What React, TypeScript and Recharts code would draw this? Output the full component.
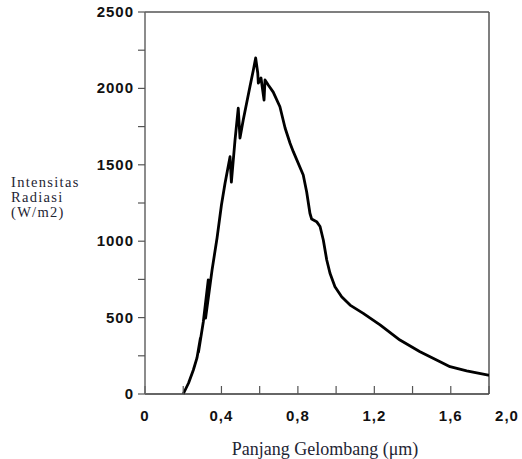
import React from 'react';
import { LineChart, Line, XAxis, YAxis, ReferenceLine } from 'recharts';

// wavelength (µm) and radiation intensity (W/m2) in order
const wavelength = [
  0.2, 0.228, 0.253, 0.272, 0.29, 0.28, 0.305, 0.331, 0.317, 0.351,
  0.377, 0.4, 0.419, 0.445, 0.452, 0.471, 0.488, 0.497, 0.514, 0.549,
  0.567, 0.579, 0.59, 0.593, 0.607, 0.623, 0.628, 0.645, 0.671, 0.706,
  0.733, 0.759, 0.776, 0.828, 0.846, 0.863, 0.872, 0.898, 0.916, 0.933,
  0.951, 0.968, 0.994, 1.029, 1.073, 1.142, 1.23, 1.334, 1.439, 1.544,
  1.596, 1.683, 1.796, 1.8,
];
const intensity = [
  0, 72, 157, 236, 366, 275, 471, 746, 497, 812,
  1021, 1237, 1381, 1553, 1387, 1662, 1870, 1675, 1793, 2011,
  2120, 2199, 2101, 2035, 2068, 1924, 2055, 2022, 1976, 1880,
  1741, 1641, 1586, 1433, 1322, 1183, 1145, 1128, 1096, 1008,
  877, 790, 702, 637, 582, 528, 452, 353, 277, 211,
  179, 152, 124, 124,
];

const xTicks = [0, 0.2, 0.4, 0.6, 0.8, 1.0, 1.2, 1.4, 1.6, 1.8];
const xTickLabels = ['0', '', '0,4', '', '0,8', '', '1,2', '', '1,6', '2,0'];
const yTicks = [0, 250, 500, 750, 1000, 1250, 1500, 1750, 2000, 2250, 2500];
const yTickLabels = ['0', '', '500', '', '1000', '', '1500', '', '2000', '', '2500'];

const data = wavelength.map((x, i) => ({ x, v: intensity[i] }));

const tickFont = {
  fontFamily: '"Liberation Sans", Arial, sans-serif',
  fontWeight: 700,
  fontSize: 15,
  letterSpacing: 1,
  fill: '#111',
};

const titleFont = {
  fontFamily: '"Liberation Serif", "Times New Roman", serif',
  fill: '#1e2533',
};

const XTick = (props: any) => {
  const { x, y, payload } = props;
  const label = xTickLabels[xTicks.indexOf(payload.value)];
  if (!label) return null;
  // the last label sits a little right of the frame in the original
  const dx = label === '2,0' ? 18 : 0;
  return (
    <text x={x + dx} y={y + 15} textAnchor="middle" {...tickFont}>
      {label}
    </text>
  );
};

const YTick = (props: any) => {
  const { x, y, payload } = props;
  const label = yTickLabels[yTicks.indexOf(payload.value)];
  if (!label) return null;
  return (
    <text x={x + 1} y={y + 5} textAnchor="end" {...tickFont}>
      {label}
    </text>
  );
};

const App = () => {
  return (
    <div style={{ position: 'absolute', left: 0, top: 0 }}>
      <LineChart
        width={522}
        height={459}
        data={data}
        margin={{ top: 12, right: 33, bottom: 0, left: 0 }}
      >
        <XAxis
          dataKey="x"
          type="number"
          domain={[0, 1.8]}
          ticks={xTicks}
          interval={0}
          height={65}
          tickSize={-8}
          tickMargin={20}
          tick={<XTick />}
          axisLine={{ stroke: '#333', strokeWidth: 1.5 }}
          tickLine={{ stroke: '#555', strokeWidth: 1.2 }}
          label={{
            content: ({ viewBox }: any) => (
              <text
                x={viewBox.x + viewBox.width / 2 + 8}
                y={viewBox.y + 61}
                textAnchor="middle"
                fontSize={18}
                {...titleFont}
              >
                Panjang Gelombang (μm)
              </text>
            ),
          }}
        />
        <YAxis
          type="number"
          domain={[0, 2500]}
          ticks={yTicks}
          interval={0}
          width={145}
          tickSize={7}
          tickMargin={5}
          tick={<YTick />}
          axisLine={{ stroke: '#666', strokeWidth: 1.5 }}
          tickLine={{ stroke: '#555', strokeWidth: 1.2 }}
          label={{
            content: ({ viewBox }: any) => (
              <text
                x={viewBox.x + 11}
                y={viewBox.y + 175}
                fontSize={14.5}
                letterSpacing={1.3}
                {...titleFont}
              >
                <tspan x={viewBox.x + 11}>Intensitas</tspan>
                <tspan x={viewBox.x + 11} dy={15}>Radiasi</tspan>
                <tspan x={viewBox.x + 11} dy={15}>(W/m2)</tspan>
              </text>
            ),
          }}
        />
        {/* frame: top and right edges */}
        <ReferenceLine y={2500} stroke="#555" strokeWidth={1.5} />
        <ReferenceLine x={1.8} stroke="#555" strokeWidth={1.5} />
        <Line
          type="linear"
          dataKey="v"
          stroke="#000"
          strokeWidth={2.8}
          strokeLinejoin="round"
          dot={false}
          isAnimationActive={false}
        />
      </LineChart>
    </div>
  );
};

export default App;
